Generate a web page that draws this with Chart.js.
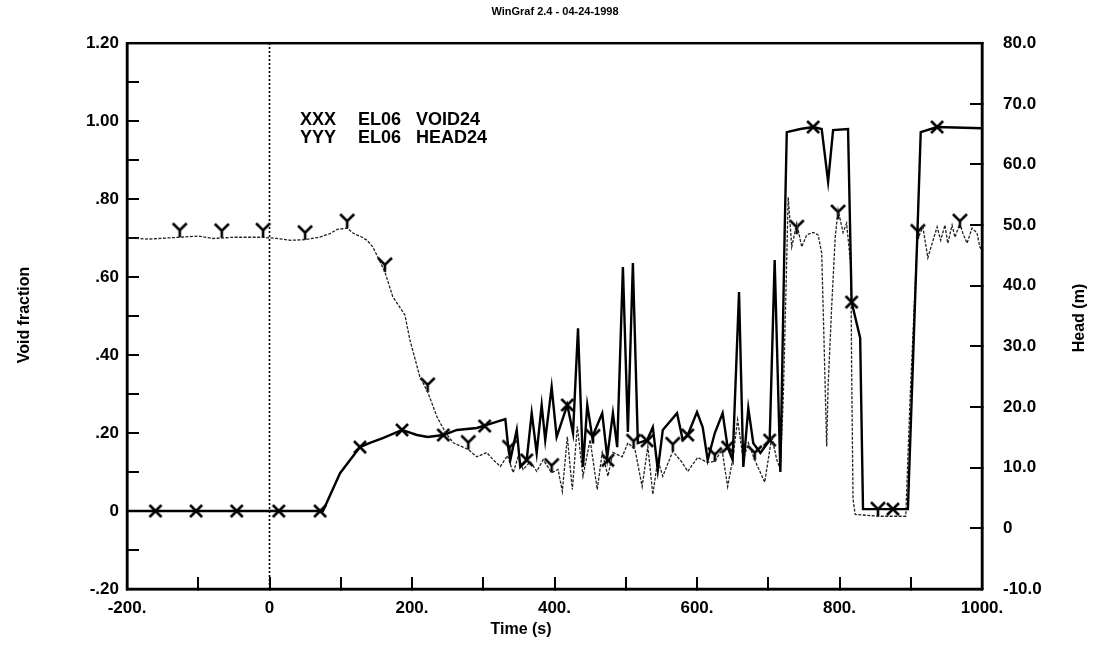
<!DOCTYPE html>
<html><head><meta charset="utf-8">
<script src="https://cdn.jsdelivr.net/npm/chart.js@4.4.0/dist/chart.umd.min.js"></script>
<style>html,body{margin:0;padding:0;background:#fff;}#wrap{width:1108px;height:652px;position:relative;}</style>
</head><body><div id="wrap"><canvas id="c" width="1108" height="652"></canvas></div>
<script>
// ---- data ----
const voidTime  = [-200, 75, 99, 127, 141, 159, 186, 207, 222, 244, 263, 291, 314, 331, 335, 338, 347, 352, 361, 368, 375, 382, 387, 396, 403, 418, 426, 433, 440, 446, 453, 467, 474, 482, 488, 496, 503, 510, 517, 530, 538, 545, 552, 572, 580, 587, 600, 608, 615, 625, 636, 643, 650, 659, 665, 672, 679, 689, 702, 709, 717, 723, 726, 745, 763, 775, 784, 791, 812, 817, 829, 833, 896, 909, 914, 937, 1000];
const voidValue = [0, 0, 0.097, 0.164, 0.175, 0.187, 0.208, 0.195, 0.19, 0.195, 0.208, 0.213, 0.226, 0.236, 0.164, 0.131, 0.208, 0.113, 0.131, 0.251, 0.149, 0.272, 0.182, 0.318, 0.19, 0.272, 0.2, 0.469, 0.113, 0.272, 0.19, 0.251, 0.138, 0.251, 0.164, 0.626, 0.203, 0.636, 0.174, 0.182, 0.215, 0.105, 0.208, 0.251, 0.182, 0.195, 0.254, 0.215, 0.131, 0.2, 0.251, 0.164, 0.131, 0.562, 0.113, 0.264, 0.174, 0.149, 0.182, 0.644, 0.10, 0.713, 0.972, 0.98, 0.985, 0.98, 0.845, 0.977, 0.98, 0.536, 0.444, 0.005, 0.005, 0.695, 0.972, 0.985, 0.982];

const headTime  = [-200, -170, -126, -100, -80, -50, -9, 10, 30, 50, 70, 85, 95, 109, 117, 130, 137, 145, 162, 173, 190, 197, 211, 222, 235, 247, 258, 279, 291, 305, 314, 324, 334, 342, 349, 356, 366, 375, 384, 396, 405, 411, 418, 425, 432, 440, 450, 460, 467, 475, 482, 495, 503, 513, 523, 531, 538, 545, 552, 566, 579, 587, 601, 614, 625, 635, 643, 650, 657, 665, 672, 681, 695, 705, 712, 717, 721, 725, 728, 733, 740, 747, 754, 763, 770, 775, 778, 782, 784, 789, 794, 798, 805, 810, 816, 817, 819, 822, 854, 893, 899, 909, 917, 924, 930, 937, 942, 948, 952, 958, 962, 969, 973, 979, 986, 993, 997, 1000];
const headValue = [47.9, 47.7, 48.0, 48.2, 47.8, 48.0, 48.0, 47.8, 47.5, 47.6, 48.0, 48.6, 49.3, 49.5, 48.7, 48.0, 47.5, 46.4, 42.3, 38.2, 35.2, 31.1, 25.0, 22.5, 18.4, 15.8, 14.1, 13.0, 11.8, 12.5, 11.3, 10.2, 12.0, 9.2, 11.8, 9.7, 11.0, 9.4, 11.3, 9.2, 9.7, 6.1, 15.1, 6.4, 16.8, 8.6, 14.6, 6.4, 12.5, 8.6, 12.5, 11.8, 14.1, 13.0, 6.9, 13.5, 5.6, 11.3, 8.6, 12.7, 10.9, 9.4, 11.7, 10.9, 11.0, 13.0, 6.9, 11.3, 17.9, 11.3, 14.1, 11.3, 7.6, 15.1, 11.3, 9.7, 21.2, 39.8, 54.6, 46.4, 50.3, 46.4, 48.4, 48.8, 48.4, 45.4, 32.2, 13.5, 23.4, 36.5, 48.0, 52.5, 48.8, 50.3, 43.1, 26.6, 4.8, 2.3, 2.0, 2.0, 21.2, 47.5, 49.7, 44.6, 47.0, 49.7, 47.5, 50.0, 47.0, 50.0, 48.0, 50.3, 48.7, 47.0, 49.5, 48.7, 46.4, 45.9];

const voidMarkTime  = [-160, -103, -46, 13, 71, 127, 186, 244, 302, 361, 418, 475, 530, 587, 643, 702, 763, 817, 875, 937];
const voidMarkValue = [0, 0, 0, 0, 0, 0.164, 0.208, 0.195, 0.218, 0.131, 0.272, 0.13, 0.18, 0.195, 0.164, 0.182, 0.985, 0.536, 0.005, 0.985];
const headMarkTime  = [-126, -67, -9, 50, 109, 162, 222, 279, 337, 396, 454, 511, 566, 625, 681, 740, 798, 854, 910, 969];
const headMarkValue = [48.0, 47.9, 48.0, 47.6, 49.5, 42.3, 22.5, 13.0, 12.2, 9.2, 14.0, 13.2, 12.7, 11.0, 11.3, 48.5, 51.0, 2.0, 47.8, 49.5];

const xTickLabels    = ["-200.", "", "0", "", "200.", "", "400.", "", "600.", "", "800.", "", "1000."];
const voidTickLabels = ["-.20", "", "0", "", ".20", "", ".40", "", ".60", "", ".80", "", "1.00", "", "1.20"];
const headTickLabels = ["-10.0", "0", "10.0", "20.0", "30.0", "40.0", "50.0", "60.0", "70.0", "80.0"];
const refLineTime = [0, 0];
const refLineValue = [-0.2, 1.2];

const chartTitle = "WinGraf 2.4 - 04-24-1998";
const legendRows = [["XXX", "EL06", "VOID24"], ["YYY", "EL06", "HEAD24"]];

// ---- helpers ----
const pts = (xs, ys) => xs.map((x, i) => ({x: x, y: ys[i]}));
function markY() {
  const c = document.createElement('canvas'); c.width = 18; c.height = 32;
  const g = c.getContext('2d'); g.strokeStyle = '#000'; g.lineWidth = 2.6;
  g.beginPath(); g.moveTo(2, 2); g.lineTo(9, 9); g.lineTo(16, 2); g.moveTo(9, 9); g.lineTo(9, 16); g.stroke();
  return c;
}
function markX() {
  const c = document.createElement('canvas'); c.width = 16; c.height = 16;
  const g = c.getContext('2d'); g.strokeStyle = '#000'; g.lineWidth = 2.6;
  g.beginPath(); g.moveTo(2, 2); g.lineTo(14, 14); g.moveTo(14, 2); g.lineTo(2, 14); g.stroke();
  return c;
}
const FONT = "'Liberation Sans', Arial, sans-serif";

const decor = {
  id: 'decor',
  afterDraw(chart) {
    const ctx = chart.ctx, a = chart.chartArea;
    ctx.save();
    ctx.strokeStyle = '#000'; ctx.lineWidth = 2.5;
    ctx.strokeRect(a.left, a.top, a.right - a.left, a.bottom - a.top);
    ctx.fillStyle = '#000';
    ctx.textBaseline = 'middle';
    ctx.textAlign = 'center';
    ctx.font = "bold 11px " + FONT;
    ctx.fillText(chartTitle, 555, 12);
    ctx.font = "bold 16px " + FONT;
    ctx.fillText("Time (s)", 521, 630);
    ctx.save(); ctx.translate(25, 315); ctx.rotate(-Math.PI / 2); ctx.fillText("Void fraction", 0, 0); ctx.restore();
    ctx.save(); ctx.translate(1080, 318); ctx.rotate(-Math.PI / 2); ctx.fillText("Head (m)", 0, 0); ctx.restore();
    ctx.textAlign = 'left';
    ctx.font = "bold 18px " + FONT;
    const cols = [300, 358, 416];
    legendRows.forEach((row, r) => row.forEach((t, i) => ctx.fillText(t, cols[i], 120 + r * 18)));
    ctx.restore();
  }
};

const tickFont = {family: FONT, size: 17, weight: 'bold'};

new Chart(document.getElementById('c'), {
  type: 'line',
  data: {
    datasets: [
      {data: pts(voidTime, voidValue), yAxisID: 'y', borderColor: '#000', borderWidth: 2.4, pointRadius: 0, tension: 0},
      {data: pts(headTime, headValue), yAxisID: 'y2', borderColor: '#222', borderWidth: 1.3, borderDash: [3, 1.5], pointRadius: 0, tension: 0},
      {data: pts(refLineTime, refLineValue), yAxisID: 'y', borderColor: '#000', borderWidth: 1.6, borderDash: [2, 2], pointRadius: 0},
      {data: pts(voidMarkTime, voidMarkValue), yAxisID: 'y', showLine: false, pointStyle: markX(), pointRadius: 8},
      {data: pts(headMarkTime, headMarkValue), yAxisID: 'y2', showLine: false, pointStyle: markY(), pointRadius: 9}
    ]
  },
  options: {
    responsive: false, animation: false, devicePixelRatio: 1,
    layout: {padding: {top: 42, left: 0, right: 0, bottom: 0}},
    plugins: {legend: {display: false}, tooltip: {enabled: false}},
    scales: {
      x: {
        type: 'linear', min: -200, max: 1000,
        afterFit: s => { s.height = 63; },
        ticks: {stepSize: 100, autoSkip: false, maxRotation: 0, padding: 21, color: '#000', font: tickFont,
          callback: (v, i) => xTickLabels[i] ?? ''},
        grid: {drawOnChartArea: false, drawTicks: true, tickLength: -12, color: '#000', lineWidth: 2},
        border: {display: true, color: '#000', width: 2.5}
      },
      y: {
        type: 'linear', position: 'left', min: -0.2, max: 1.2,
        afterFit: s => { s.width = 127; },
        ticks: {stepSize: 0.1, autoSkip: false, padding: 20, color: '#000', font: tickFont,
          callback: (v, i) => voidTickLabels[i] ?? ''},
        grid: {drawOnChartArea: false, drawTicks: true, tickLength: -12, color: '#000', lineWidth: 2},
        border: {display: true, color: '#000', width: 2.5}
      },
      y2: {
        type: 'linear', position: 'right', min: -10, max: 80,
        afterFit: s => { s.width = 126; },
        ticks: {stepSize: 10, autoSkip: false, padding: 33, color: '#000', font: tickFont,
          callback: (v, i) => headTickLabels[i] ?? ''},
        grid: {drawOnChartArea: false, drawTicks: true, tickLength: -12, color: '#000', lineWidth: 2},
        border: {display: true, color: '#000', width: 2.5}
      }
    }
  },
  plugins: [decor]
});
</script></body></html>
